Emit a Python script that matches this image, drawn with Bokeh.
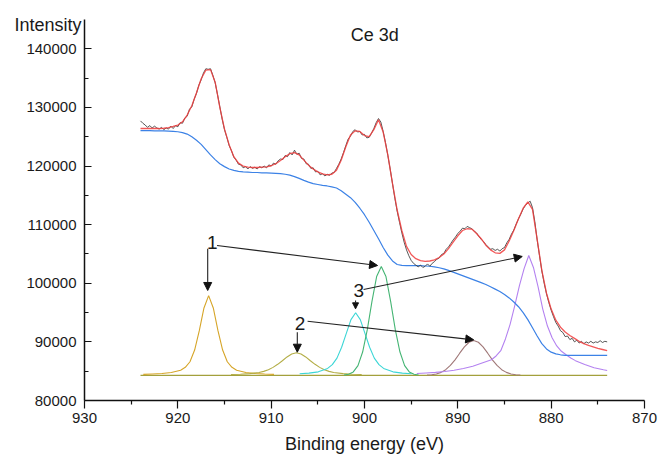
import numpy as np
from bokeh.plotting import figure
from bokeh.models import Range1d, FixedTicker, BasicTickFormatter, Label, Arrow, NormalHead
from bokeh.embed import file_html
from bokeh.resources import INLINE

# ---------------- data ----------------
# measured spectrum, binding energy 924 -> 874 eV every 0.25 eV
raw_be = np.round(np.linspace(924.0, 874.0, 201), 2)
raw_int = [
    127700, 127300, 127000, 126600,
    126900, 126500, 126800, 126500,
    126300, 126600, 126200, 126500,
    126300, 126800, 126400, 126900,
    126700, 127400, 127300, 128200,
    128500, 129700, 130100, 131400,
    132400, 133800, 134700, 135900,
    136600, 136500, 136600, 135500,
    134200, 132200, 130100, 128000,
    126200, 124900, 123500, 122600,
    121500, 121000, 120300, 120200,
    119700, 119900, 119500, 119900,
    119600, 119800, 119500, 119900,
    119700, 120000, 119700, 120200,
    120000, 120500, 120300, 120900,
    121200, 121100, 121800, 121600,
    122300, 121900, 122700, 122000,
    122200, 121300, 121200, 120400,
    120300, 119600, 119700, 119000,
    119100, 118500, 118700, 118300,
    118600, 118400, 118800, 118900,
    119600, 120300, 121200, 122300,
    123500, 124600, 125100, 125900,
    126200, 125800, 125900, 125300,
    125400, 124800, 124900, 125600,
    126400, 127400, 128100, 127500,
    125900, 124000, 121800, 119500,
    117000, 114500, 112300, 110400,
    108600, 107000, 105700, 104700,
    103900, 103400, 103100, 102800,
    103100, 102700, 102900, 103300,
    102900, 103400, 103700, 104100,
    104300, 104900, 105100, 105800,
    106200, 106800, 107400, 107900,
    108500, 108900, 109400, 109300,
    109700, 109500, 109300, 108900,
    108600, 108000, 107500, 107100,
    106600, 106200, 105800, 105900,
    105600, 105800, 105500, 105900,
    106100, 106900, 107500, 108400,
    109100, 110100, 111000, 111800,
    112700, 113300, 113700, 114000,
    112900, 110500, 107400, 104700,
    102100, 100000, 98200, 96700,
    95400, 94300, 93300, 92700,
    91900, 91600, 90900, 91000,
    90400, 90600, 90000, 90300,
    89800, 90100, 89700, 90000,
    89800, 90100, 89800, 90000,
    89900, 90200, 89900, 90100,
    90000,
]

# fitted envelope and Shirley background, 924 -> 874 eV every 0.5 eV
fit_be = np.round(np.linspace(924.0, 874.0, 101), 2)
envelope = [
    126400, 126400, 126400, 126400, 126400, 126450, 126550, 126750,
    127000, 127550, 128700, 130300, 132500, 134900, 136350, 136450,
    134300, 130000, 126300, 123600, 121600, 120500, 120000, 119800,
    119750, 119750, 119800, 119850, 120050, 120400, 120950, 121600,
    122100, 122300, 121900, 121000, 120150, 119500, 119000, 118650,
    118500, 118600, 119300, 121000, 123300, 125300, 126000, 125900,
    125200, 125000, 126200, 127900, 125800, 121900, 117000, 112500,
    109000, 106300, 104900, 104200, 103850, 103750, 103800, 104000,
    104400, 105000, 105900, 107000, 108100, 109000, 109300, 109250,
    108500, 107600, 106500, 105700, 105200, 105100, 105700, 107200,
    109000, 111000, 112800, 113900, 112600, 107500, 102200, 98300,
    95600, 93700, 92500, 91700, 91100, 90600, 90100, 89700,
    89400, 89150, 88900, 88700, 88500,
]
background = [
    126050, 126050, 126050, 126000, 126000, 126000, 125950, 125900,
    125850, 125700, 125450, 125000, 124400, 123700, 122800, 121900,
    121100, 120400, 119900, 119500, 119250, 119100, 119000, 118950,
    118900, 118900, 118850, 118850, 118800, 118750, 118700, 118600,
    118450, 118200, 117900, 117550, 117250, 117000, 116850, 116700,
    116600, 116450, 116250, 115800, 115200, 114600, 113800, 112800,
    111700, 110400, 109000, 107600, 106100, 104800, 103800, 103200,
    103050, 103000, 103000, 103000, 103000, 102950, 102900, 102800,
    102650, 102450, 102200, 101900, 101600, 101300, 101000, 100700,
    100400, 100100, 99800, 99400, 99000, 98600, 98100, 97500,
    96800, 96000, 95000, 93800, 92400, 91000, 89700, 88800,
    88250, 87950, 87800, 87700, 87700, 87700, 87700, 87700,
    87700, 87700, 87700, 87700, 87700,
]

# flat baseline of the components
base_be = [924.0, 874.0]
base_int = [84300, 84300]

# fitted component peaks
gold_be = [923.7, 922.7, 921.7, 920.7, 919.7, 919.2, 918.7, 918.2, 917.7, 917.2, 916.7,
           916.2, 915.7, 915.2, 914.7, 914.2, 913.7, 912.7, 911.7, 910.7, 909.7]
gold_int = [84460, 84530, 84610, 84790, 85170, 85660, 86610, 88610, 91920, 95790, 97900,
            95790, 91920, 88610, 86610, 85660, 85170, 84790, 84610, 84530, 84460]

olive_be = [914.3, 913.3, 912.3, 911.3, 910.8, 910.3, 909.8, 909.3, 908.8, 908.3, 907.8, 907.3,
            906.8, 906.3, 905.8, 905.3, 904.8, 904.3, 903.8, 903.3, 902.3, 901.3, 900.3]
olive_int = [84440, 84490, 84580, 84780, 84970, 85250, 85650, 86170, 86780, 87430, 87940, 88140,
             87940, 87430, 86780, 86170, 85650, 85250, 84970, 84780, 84580, 84490, 84440]

cyan_be = [906.95, 905.95, 904.95, 903.95, 903.45, 902.95, 902.45, 901.95, 901.45, 900.95,
           900.45, 899.95, 899.45, 898.95, 898.45, 897.95, 896.95, 895.95, 894.95]
cyan_int = [84570, 84670, 84890, 85470, 86110, 87230, 89080, 91460, 93790, 94960,
            93790, 91460, 89080, 87230, 86110, 85470, 84890, 84670, 84570]

green_be = [902.2, 901.7, 901.2, 900.7, 900.2, 899.7, 899.2, 898.7, 898.2,
            897.7, 897.2, 896.7, 896.2, 895.7, 895.2, 894.7, 894.2]
green_int = [84340, 84470, 84880, 85950, 88270, 92080, 96920, 101150, 102860,
             101150, 96920, 92080, 88270, 85950, 84880, 84470, 84340]

brown_be = [893.3, 892.8, 892.3, 891.8, 891.3, 890.8, 890.3, 889.8, 889.3, 888.8, 888.3,
            887.8, 887.3, 886.8, 886.3, 885.8, 885.3, 884.8, 884.3, 883.8, 883.3]
brown_int = [84340, 84400, 84530, 84800, 85260, 85980, 86940, 88070, 89150, 89940, 90240,
             89940, 89150, 88070, 86940, 85980, 85260, 84800, 84530, 84400, 84340]

purple_be = [894.4, 893.4, 892.4, 891.4, 890.4, 889.4, 888.4, 887.4, 886.4, 885.9, 885.4,
             884.9, 884.4, 883.9, 883.4, 882.9, 882.4, 881.9, 881.4, 880.9, 880.4, 879.9,
             879.4, 878.9, 878.4, 877.9, 877.4, 876.4, 875.4, 874.4, 874.0]
purple_int = [84600, 84700, 84800, 84950, 85150, 85450, 85850, 86400, 86950, 87600, 88500,
              90500, 93000, 96200, 99600, 102500, 104740, 102700, 99400, 95600, 92700, 90700,
              89300, 88400, 87800, 87250, 86800, 86150, 85600, 85250, 85120]

x_ticks = [930, 920, 910, 900, 890, 880, 870]
x_minor = [925, 915, 905, 895, 885, 875]
y_ticks = [80000, 90000, 100000, 110000, 120000, 130000, 140000]
y_minor = [85000, 95000, 105000, 115000, 125000, 135000]

# ---------------- figure ----------------
FONT = "Liberation Sans"
p = figure(width=658, height=458, output_backend="svg", toolbar_location=None,
           x_range=Range1d(930, 870), y_range=Range1d(80000, 145000),
           min_border_left=84, min_border_right=14, min_border_top=19, min_border_bottom=58)
p.outline_line_color = None
p.grid.visible = False
p.background_fill_color = "white"
p.border_fill_color = "white"

# y-axis caption drawn as the plot title, shifted to the upper-left corner
p.title.text = "Intensity"
p.title.align = "left"
p.title.vertical_align = "bottom"
p.title.offset = -70
p.title.standoff = -30
p.title.text_font = FONT
p.title.text_font_size = "18px"
p.title.text_font_style = "normal"
p.title.text_color = "#1a1a1a"

p.xaxis.ticker = FixedTicker(ticks=x_ticks, minor_ticks=x_minor)
p.yaxis.ticker = FixedTicker(ticks=y_ticks, minor_ticks=y_minor)
p.yaxis.formatter = BasicTickFormatter(use_scientific=False)

for ax in (p.xaxis[0], p.yaxis[0]):
    ax.axis_line_color = "#111111"
    ax.axis_line_width = 1.5
    ax.major_tick_line_color = "#111111"
    ax.minor_tick_line_color = "#111111"
    ax.major_tick_line_width = 1.2
    ax.minor_tick_line_width = 1.2
    ax.major_label_text_font = FONT
    ax.major_label_text_font_size = "15px"
    ax.major_label_text_color = "#1a1a1a"

p.xaxis.major_tick_out = 8
p.xaxis.major_tick_in = 0
p.xaxis.minor_tick_out = 4
p.xaxis.minor_tick_in = 0
p.xaxis.major_label_standoff = 4
p.xaxis.axis_label = "Binding energy (eV)"
p.xaxis.axis_label_text_font = FONT
p.xaxis.axis_label_text_font_size = "18px"
p.xaxis.axis_label_text_font_style = "normal"
p.xaxis.axis_label_text_color = "#1a1a1a"
p.xaxis.axis_label_standoff = 8

p.yaxis.major_tick_in = 7
p.yaxis.major_tick_out = 0
p.yaxis.minor_tick_in = 4
p.yaxis.minor_tick_out = 0
p.yaxis.major_label_standoff = 8

# baseline and components
p.line(base_be, base_int, line_color="#a3a03c", line_width=1.2)
p.line(gold_be, gold_int, line_color="#d6a528", line_width=1.1)
p.line(olive_be, olive_int, line_color="#b3ad45", line_width=1.1)
p.line(cyan_be, cyan_int, line_color="#3cd6d6", line_width=1.1)
p.line(green_be, green_int, line_color="#45b574", line_width=1.1)
p.line(brown_be, brown_int, line_color="#a07878", line_width=1.1)
p.line(purple_be, purple_int, line_color="#b482f0", line_width=1.1)

# background, measured data, envelope
p.line(fit_be, background, line_color="#3c82e6", line_width=1.2)
p.line(list(raw_be), raw_int, line_color="#3a3a3a", line_width=1.0, line_alpha=0.85)
p.line(list(fit_be), envelope, line_color="#f03c3c", line_width=1.3, line_alpha=0.85)

# texts inside the frame
p.add_layout(Label(x=898.9, y=142440, text="Ce 3d", text_font=FONT, text_font_size="18px",
                   text_color="#1a1a1a", text_align="center", text_baseline="middle"))

for txt, ex, ey in [("1", 916.3, 107020), ("2", 906.9, 93090), ("3", 900.6, 98770)]:
    p.add_layout(Label(x=ex, y=ey, text=txt, text_font=FONT, text_font_size="19px",
                       text_color="#1a1a1a", text_align="center", text_baseline="middle"))

arrows = [
    (916.8, 105880, 916.8, 98770, 8),
    (915.8, 106440, 898.6, 103030, 8),
    (907.2, 91650, 907.2, 88240, 8),
    (906.1, 93530, 888.3, 90350, 8),
    (900.96, 97060, 900.96, 95640, 6),
    (900.1, 98940, 883.1, 104570, 8),
]
for xs, ys, xe, ye, hs in arrows:
    p.add_layout(Arrow(end=NormalHead(size=hs, fill_color="#111111", line_color="#111111"),
                       x_start=xs, y_start=ys, x_end=xe, y_end=ye,
                       line_color="#222222", line_width=1.1))

open("out.html", "w").write(file_html(p, INLINE))
